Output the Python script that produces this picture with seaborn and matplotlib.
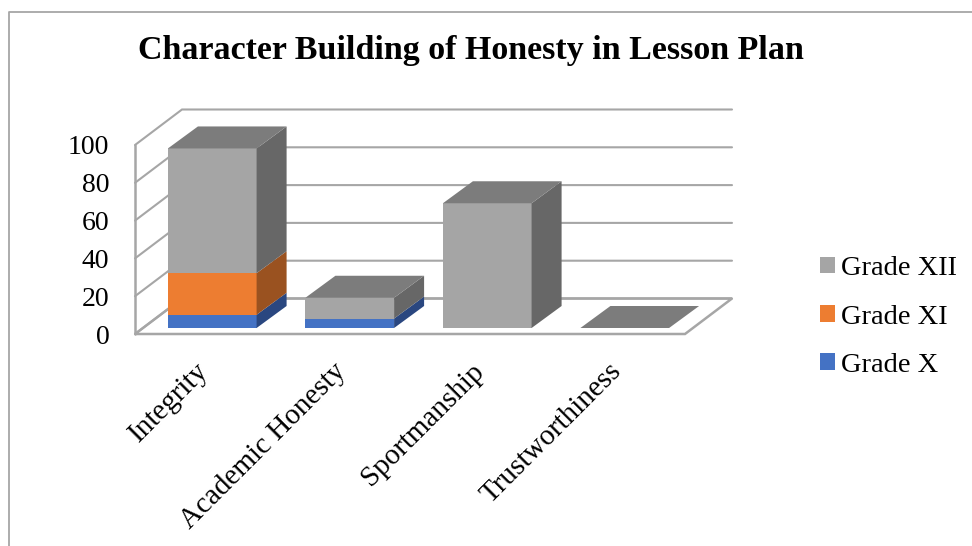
import numpy as np
import matplotlib
matplotlib.use("Agg")
import matplotlib.pyplot as plt
from matplotlib.lines import Line2D
from matplotlib.patches import Polygon
from matplotlib.transforms import ScaledTranslation
import seaborn as sns

categories = ["Integrity", "Academic Honesty", "Sportmanship", "Trustworthiness"]
grade_x = [7, 5, 0, 0]
grade_xi = [22, 0, 0, 0]
grade_xii = [66, 11, 66, 0]
series_names = ["Grade X", "Grade XI", "Grade XII"]
series_values = [grade_x, grade_xi, grade_xii]
front_colors = ["#4472C4", "#ED7D31", "#A5A5A5"]
side_colors = ["#2A4780", "#9A5220", "#676767"]
top_color = "#7C7C7C"
y_ticks = [0, 20, 40, 60, 80, 100]

sns.set_theme(style="white")
plt.rcParams["font.family"] = ["Liberation Serif", "DejaVu Serif"]

W, H = 972, 546
fig = plt.figure(figsize=(W / 100, H / 100), dpi=100, facecolor="white")
ax = fig.add_axes([135 / W, (H - 334) / H, 550 / W, 189 / H])
ax.set_facecolor("none")

px_x = 550 / 4        # pixels per category
px_y = 189 / 100      # pixels per value unit
wall_dx, wall_dy = 47 / px_x, 35.5 / px_y
bar_dx, bar_dy = 30 / px_x, 22 / px_y
bar_shift = ScaledTranslation(8.5 / 100, 6 / 100, fig.dpi_scale_trans)
wall_color = "#A6A6A6"

# back walls and gridlines
x0, x1 = -0.5, 3.5
for t in y_ticks:
    ax.plot([x0, x0 + wall_dx, x1 + wall_dx], [t, t + wall_dy, t + wall_dy],
            color=wall_color, lw=1.5, clip_on=False, zorder=1, solid_joinstyle="miter")
ax.plot([x0, x0], [0, 100], color=wall_color, lw=1.8, clip_on=False, zorder=1)
ax.add_patch(Polygon([(x0, 0), (x1, 0), (x1 + wall_dx, wall_dy), (x0 + wall_dx, wall_dy)],
                     closed=True, facecolor="none", edgecolor=wall_color, lw=1.8,
                     clip_on=False, zorder=1))

# stacked bars
bottom = np.zeros(len(categories))
handles = []
for idx, (name, vals, fc, sc) in enumerate(zip(series_names, series_values, front_colors, side_colors)):
    vals = np.asarray(vals, dtype=float)
    n_before = len(ax.patches)
    sns.barplot(x=categories, y=vals, bottom=bottom, color=fc, saturation=1,
                width=0.645, ax=ax, zorder=3)
    rects = ax.patches[n_before:]
    handles.append(rects[0])
    for r in rects:
        r.set_transform(ax.transData + bar_shift)
        r.set_clip_on(False)
        r.set_edgecolor("none")
        xl, w, yb, h = r.get_x(), r.get_width(), r.get_y(), r.get_height()
        xr = xl + w
        if h > 0:
            ax.add_patch(Polygon([(xr, yb), (xr + bar_dx, yb + bar_dy),
                                  (xr + bar_dx, yb + h + bar_dy), (xr, yb + h)],
                                 closed=True, facecolor=sc, edgecolor="none", clip_on=False,
                                 zorder=3, transform=ax.transData + bar_shift))
        if idx == len(series_names) - 1:
            ax.add_patch(Polygon([(xl, yb + h), (xr, yb + h),
                                  (xr + bar_dx, yb + h + bar_dy), (xl + bar_dx, yb + h + bar_dy)],
                                 closed=True, facecolor=top_color, edgecolor="none", clip_on=False,
                                 zorder=3, transform=ax.transData + bar_shift))
    bottom = bottom + vals

ax.set_xlim(x0, x1)
ax.set_ylim(0, 100)
ax.set_xlabel("")
ax.set_ylabel("")
sns.despine(ax=ax, left=True, bottom=True, right=True, top=True)
ax.set_yticks(y_ticks)
ax.set_yticklabels([str(t) for t in y_ticks])
ax.tick_params(axis="y", length=0, pad=18.5, labelsize=20, labelcolor="black")
ax.tick_params(axis="x", length=0, pad=0)
ax.set_xticks(range(len(categories)))
ax.set_xticklabels(categories, rotation=45, ha="right", va="top",
                   rotation_mode="anchor", fontsize=21, color="black")
for lab in ax.get_xticklabels():
    lab.set_transform(lab.get_transform() + ScaledTranslation(-8 / 100, -24 / 100, fig.dpi_scale_trans))

fig.text(471 / W, 1 - 50 / H, "Character Building of Honesty in Lesson Plan",
         ha="center", va="center", fontsize=24.5, fontweight="bold", color="black")

leg = fig.legend(handles[::-1], series_names[::-1], loc="center left",
                 bbox_to_anchor=(820 / W, 1 - 317 / H), frameon=False, fontsize=20.5,
                 handlelength=0.53, handleheight=0.53, handletextpad=0.22,
                 borderpad=0, borderaxespad=0, labelspacing=0.82, labelcolor="black")

# chart frame
fig.add_artist(Line2D([9 / W, 9 / W, 1], [0, 1 - 11.7 / H, 1 - 11.7 / H], color=wall_color, lw=1.3))

fig.savefig("out.png", dpi=100)
